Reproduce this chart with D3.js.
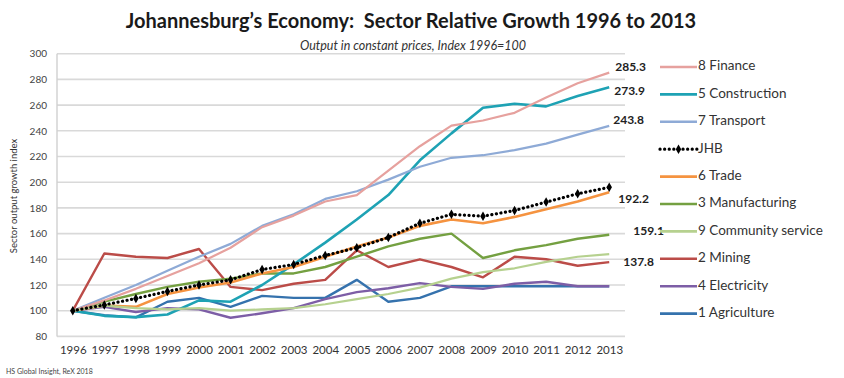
<!DOCTYPE html>
<html>
<head>
<meta charset="utf-8">
<script src="https://cdn.jsdelivr.net/npm/d3@7"></script>
<style>
  html, body { margin: 0; padding: 0; background: #fff; }
  svg { display: block; font-family: Lato, "Open Sans", sans-serif; }
  .title { white-space: pre; }
</style>
</head>
<body>
<svg id="chart" width="844" height="378"></svg>
<script>
// Johannesburg sector output, index 1996 = 100
const years = ["1996","1997","1998","1999","2000","2001","2002","2003","2004","2005",
               "2006","2007","2008","2009","2010","2011","2012","2013"];
const yTicks = [80,100,120,140,160,180,200,220,240,260,280,300];

const finance       = [100,108,117,127,137,149,165,174,185,190,209,228,244,248,254,266,277,285.3];
const construction  = [100,96,95,97,108,107,120,136,153,171,190,217,238,258,261,259,267,273.9];
const transport     = [100,110,120,131,142,152,166,175,187,193,202,212,219,221,225,230,237,243.8];
const jhb           = [100,104.5,109.5,115,120,124,132,136,143,149,157,168,175,173.5,178,184.5,191,196];
const trade         = [100,104,103,113,118,122,129,134,142,150,157,166,171,168,173,179,185,192.2];
const manufacturing = [100,107,113,118.5,122.5,125,129,129,134,142,150,156,160,141,147,151,156,159.1];
const community     = [100,104,102,101,102,100,101,102,105,109,113,118,125,130,133,138,142,144];
const mining        = [100,144.5,142,141,148,118.5,116,121,124,147,134,140,134,126,142,140,135,137.8];
const electricity   = [100,103,99,102,101,94.5,98,102,109,114.5,117.5,121.5,118.5,117,121,122.5,119,119];
const agriculture   = [100,96.5,94.8,107,110,103,111.5,110,110,124,107,110,119,119,119,119,119,119];

const seriesNames = ["8 Finance","5 Construction","7 Transport","JHB","6 Trade",
                     "3 Manufacturing","9 Community service","2 Mining","4 Electricity","1 Agriculture"];
const seriesValues = [finance, construction, transport, jhb, trade,
                      manufacturing, community, mining, electricity, agriculture];
const seriesColors = ["#e6a19e","#1ea2b4","#8eaad6","#000000","#f59340",
                      "#74a041","#b6d18f","#bb4c48","#7d5ea6","#3572ad"];

const svg = d3.select("#chart");

const x = d3.scalePoint().domain(years).range([57, 625]).padding(0.5);
const y = d3.scaleLinear().domain([80, 300]).range([336.4, 53.7]);

// Title and subtitle
svg.append("text").attr("class", "title").attr("x", 411).attr("y", 28).attr("text-anchor", "middle")
  .attr("font-size", 20).attr("font-weight", "bold").attr("fill", "#1a1a1a")
  .text("Johannesburg\u2019s Economy:  Sector Relative Growth 1996 to 2013");
svg.append("text").attr("x", 413).attr("y", 50).attr("text-anchor", "middle")
  .attr("font-size", 12.5).attr("font-style", "italic").attr("fill", "#333")
  .text("Output in constant prices, Index 1996=100");

// Horizontal gridlines
svg.append("g").selectAll("line").data(yTicks).join("line")
  .attr("x1", 57).attr("x2", 625)
  .attr("y1", d => y(d)).attr("y2", d => y(d))
  .attr("stroke", "#d9d9d9").attr("stroke-width", 1.6);

// Vertical axis line
svg.append("line").attr("x1", 57).attr("x2", 57)
  .attr("y1", y(300)).attr("y2", y(80))
  .attr("stroke", "#d0d0d0").attr("stroke-width", 1.4);

// Y axis labels
const yAxis = d3.axisLeft(y).tickValues(yTicks).tickSize(0).tickPadding(0);
const gy = svg.append("g").attr("transform", "translate(47,0)").call(yAxis);
gy.select(".domain").remove();
gy.selectAll("text").attr("font-size", 10).attr("fill", "#444")
  .attr("font-family", "Lato, sans-serif");

// X axis labels
const xAxis = d3.axisBottom(x).tickSize(0).tickPadding(0);
const gx = svg.append("g").attr("transform", "translate(0,346)").call(xAxis);
gx.select(".domain").remove();
gx.selectAll("text").attr("font-size", 11.5).attr("fill", "#333")
  .attr("font-family", "Lato, sans-serif");

// Y axis title
svg.append("text")
  .attr("transform", "translate(17,196) rotate(-90)")
  .attr("text-anchor", "middle").attr("font-size", 9.5).attr("fill", "#333")
  .text("Sector output growth index");

// Source note
svg.append("text").attr("x", 6).attr("y", 374)
  .attr("font-size", 7).attr("fill", "#444")
  .text("HS Global Insight, ReX 2018");

// Series lines (drawn so JHB sits on top)
const line = d3.line().x((d, i) => x(years[i])).y(d => y(d));
const drawOrder = [9, 7, 5, 8, 1, 4, 2, 0, 6, 3];
const widths = [2.2, 2.6, 2.2, 2.6, 2.6, 2.4, 2.2, 2.4, 2.4, 2.4];
const gLines = svg.append("g");
drawOrder.forEach(i => {
  const path = gLines.append("path").datum(seriesValues[i])
    .attr("d", line).attr("fill", "none")
    .attr("stroke", seriesColors[i]).attr("stroke-width", widths[i])
    .attr("stroke-linejoin", "round");
  if (seriesNames[i] === "JHB") {
    path.attr("stroke-dasharray", "0.1,4.5").attr("stroke-linecap", "round")
      .attr("stroke-width", 3.2);
  }
});

// JHB diamond markers
const diamond = d3.symbol().type(d3.symbolDiamond).size(26);
svg.append("g").selectAll("path").data(jhb).join("path")
  .attr("d", diamond)
  .attr("transform", (d, i) => `translate(${x(years[i])},${y(d)})`)
  .attr("fill", "#000");

// End-value labels
const endLabels = [
  { s: 0, dx: 6, dy: -5 },
  { s: 1, dx: 5, dy: 5 },
  { s: 2, dx: 4, dy: -5 },
  { s: 4, dx: 9, dy: 8 },
  { s: 5, dx: 24, dy: -3 },
  { s: 7, dx: 14, dy: 1 }
];
svg.append("g").selectAll("text").data(endLabels).join("text")
  .attr("x", d => x(years[years.length - 1]) + d.dx)
  .attr("y", d => y(seriesValues[d.s][seriesValues[d.s].length - 1]) + d.dy)
  .attr("dominant-baseline", "middle")
  .attr("font-size", 12).attr("font-weight", "bold").attr("fill", "#222")
  .text(d => d3.format(".1f")(seriesValues[d.s][seriesValues[d.s].length - 1]));

// Legend
const legend = svg.append("g");
seriesNames.forEach((name, i) => {
  const ly = 67 + i * 27.4;
  const ln = legend.append("line").attr("x1", 660).attr("x2", 697)
    .attr("y1", ly).attr("y2", ly)
    .attr("stroke", seriesColors[i]).attr("stroke-width", 2.6);
  if (name === "JHB") {
    ln.attr("stroke-dasharray", "0.1,4.5").attr("stroke-linecap", "round").attr("stroke-width", 3.2);
    legend.append("path").attr("d", diamond)
      .attr("transform", `translate(678.5,${ly})`).attr("fill", "#000");
  }
  legend.append("text").attr("x", 698).attr("y", ly)
    .attr("dominant-baseline", "middle")
    .attr("font-size", 13.5).attr("fill", "#333")
    .text(name);
});
</script>
</body>
</html>
